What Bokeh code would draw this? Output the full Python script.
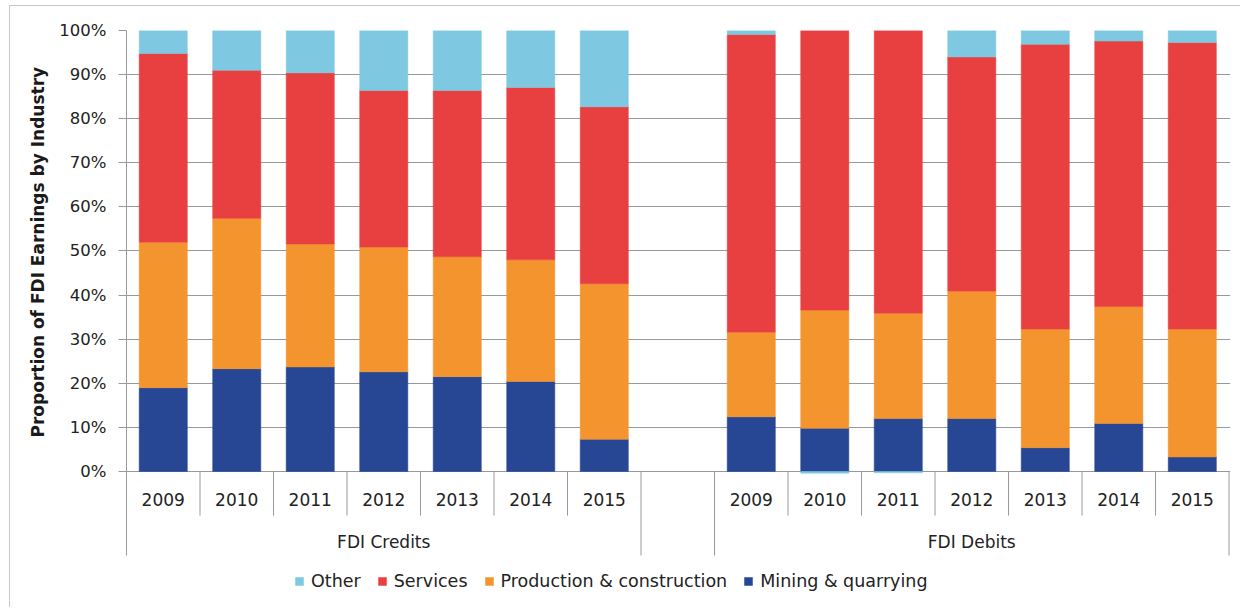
from bokeh.plotting import figure
from bokeh.models import ColumnDataSource, Range1d, FixedTicker, Legend, LegendItem, Title
from bokeh.embed import file_html
from bokeh.resources import INLINE
from bokeh.core.properties import value

# ---------------- data ----------------
years = ["2009", "2010", "2011", "2012", "2013", "2014", "2015"]
groups = ["FDI Credits", "FDI Debits"]
series = ["Mining & quarrying", "Production & construction", "Services", "Other"]
legend_order = ["Other", "Services", "Production & construction", "Mining & quarrying"]
colors = ["#274794", "#F3942F", "#E84041", "#7EC8E1"]

# FDI Credits (% share of earnings)
credits_mining = [19.0, 23.3, 23.7, 22.6, 21.5, 20.4, 7.3]
credits_production = [33.0, 34.1, 27.9, 28.3, 27.2, 27.6, 35.3]
credits_services = [42.8, 33.6, 38.8, 35.5, 37.7, 39.1, 40.1]
credits_other = [5.2, 9.0, 9.6, 13.6, 13.6, 12.9, 17.3]

# FDI Debits (% share of earnings)
debits_mining = [12.4, 9.8, 12.0, 12.0, 5.4, 10.9, 3.3]
debits_production = [19.2, 26.8, 23.9, 28.9, 26.9, 26.5, 29.0]
debits_services = [67.5, 63.8, 64.4, 53.1, 64.6, 60.2, 65.0]
debits_other = [0.9, -0.4, -0.3, 6.0, 3.1, 2.4, 2.7]

y_ticks = [0, 10, 20, 30, 40, 50, 60, 70, 80, 90, 100]

# ---------------- layout helpers ----------------
n = len(years)
credit_x = [i + 0.5 for i in range(n)]            # slots 0..6
debit_x = [n + 1 + i + 0.5 for i in range(n)]     # slots 8..14 (slot 7 empty)
n_slots = 2 * n + 1
axis_bottom = -19.05      # lower end of the category axis box
range_bottom = -31.07     # frame extends further down to hold the legend

all_x = credit_x + debit_x
all_vals = [
    credits_mining + debits_mining,
    credits_production + debits_production,
    credits_services + debits_services,
    credits_other + debits_other,
]

# stack positives upward and negatives downward (Excel style)
pos_base = [0.0] * len(all_x)
neg_base = [0.0] * len(all_x)
sources = []
for vals in all_vals:
    bottoms, tops = [], []
    for j, v in enumerate(vals):
        if v >= 0:
            bottoms.append(pos_base[j]); tops.append(pos_base[j] + v); pos_base[j] += v
        else:
            bottoms.append(neg_base[j] + v); tops.append(neg_base[j]); neg_base[j] += v
    sources.append(ColumnDataSource(dict(x=all_x, bottom=bottoms, top=tops)))

FONT = "DejaVu Sans"
TXT = "#222222"
GRID = "#999999"

p = figure(width=1231, height=602, output_backend="svg", toolbar_location=None,
           x_range=Range1d(0, n_slots + 0.02), y_range=Range1d(range_bottom, 100),
           x_axis_type=None, min_border_left=116, min_border_top=24,
           min_border_right=11, min_border_bottom=0)
p.outline_line_color = None
p.styles = {"margin-left": "9px", "margin-top": "5px",
            "border-left": "1px solid #c8c8c8", "border-top": "1px solid #c8c8c8"}

# y axis
p.yaxis.ticker = FixedTicker(ticks=y_ticks)
p.yaxis.bounds = (axis_bottom, 100)
p.yaxis.major_label_overrides = {t: f"{t}%" for t in y_ticks}
p.yaxis.axis_line_color = GRID
p.yaxis.major_tick_line_color = GRID
p.yaxis.major_tick_out = 8
p.yaxis.major_tick_in = 0
p.yaxis.minor_tick_line_color = None
p.yaxis.major_label_standoff = 12
p.yaxis.major_label_text_font = FONT
p.yaxis.major_label_text_font_size = "16.5px"
p.yaxis.major_label_text_color = TXT
p.ygrid.grid_line_color = GRID
p.ygrid.grid_line_width = 1

# y axis title, placed along the 0-100% part of the axis
p.add_layout(Title(text="Proportion of FDI Earnings by Industry", align="left",
                   offset=171, standoff=18, text_font=FONT, text_font_size="17px",
                   text_font_style="bold", text_color="#1a1a1a"), "left")

# category separators
short_x = [i for i in range(1, n)] + [n + 1 + i for i in range(1, n)]
long_x = [n, n + 1, n_slots]
p.segment(x0=short_x, x1=short_x, y0=[0] * len(short_x), y1=[-10] * len(short_x),
          line_color=GRID, line_width=1)
p.segment(x0=long_x, x1=long_x, y0=[0] * len(long_x), y1=[axis_bottom] * len(long_x),
          line_color=GRID, line_width=1)

# bars
renderers = []
for src, c in zip(sources, colors):
    r = p.vbar(x="x", bottom="bottom", top="top", width=0.655, source=src,
               fill_color=c, line_color=c, line_width=0.5)
    renderers.append(r)

# year labels and group labels
year_src = ColumnDataSource(dict(x=all_x, y=[-6.4] * len(all_x), t=years + years))
p.text(x="x", y="y", text="t", source=year_src, text_align="center",
       text_baseline="middle", text_font=value(FONT), text_font_size="17px",
       text_color=TXT)
grp_src = ColumnDataSource(dict(x=[n / 2, n + 1 + n / 2], y=[-15.9, -15.9], t=groups))
p.text(x="x", y="y", text="t", source=grp_src, text_align="center",
       text_baseline="middle", text_font=value(FONT), text_font_size="17px",
       text_color=TXT)

# legend (inside the extended frame, below the category axis)
by_name = dict(zip(series, renderers))
items = [LegendItem(label=name, renderers=[by_name[name]]) for name in legend_order]
legend = Legend(items=items, orientation="horizontal", location=(168, 17),
                glyph_width=10, glyph_height=10, label_standoff=7, spacing=16,
                padding=3, margin=0, border_line_color=None,
                label_text_font=FONT, label_text_font_size="17.5px",
                label_text_color=TXT, background_fill_alpha=0)
p.add_layout(legend, "center")

open("out.html", "w").write(file_html(p, INLINE))
